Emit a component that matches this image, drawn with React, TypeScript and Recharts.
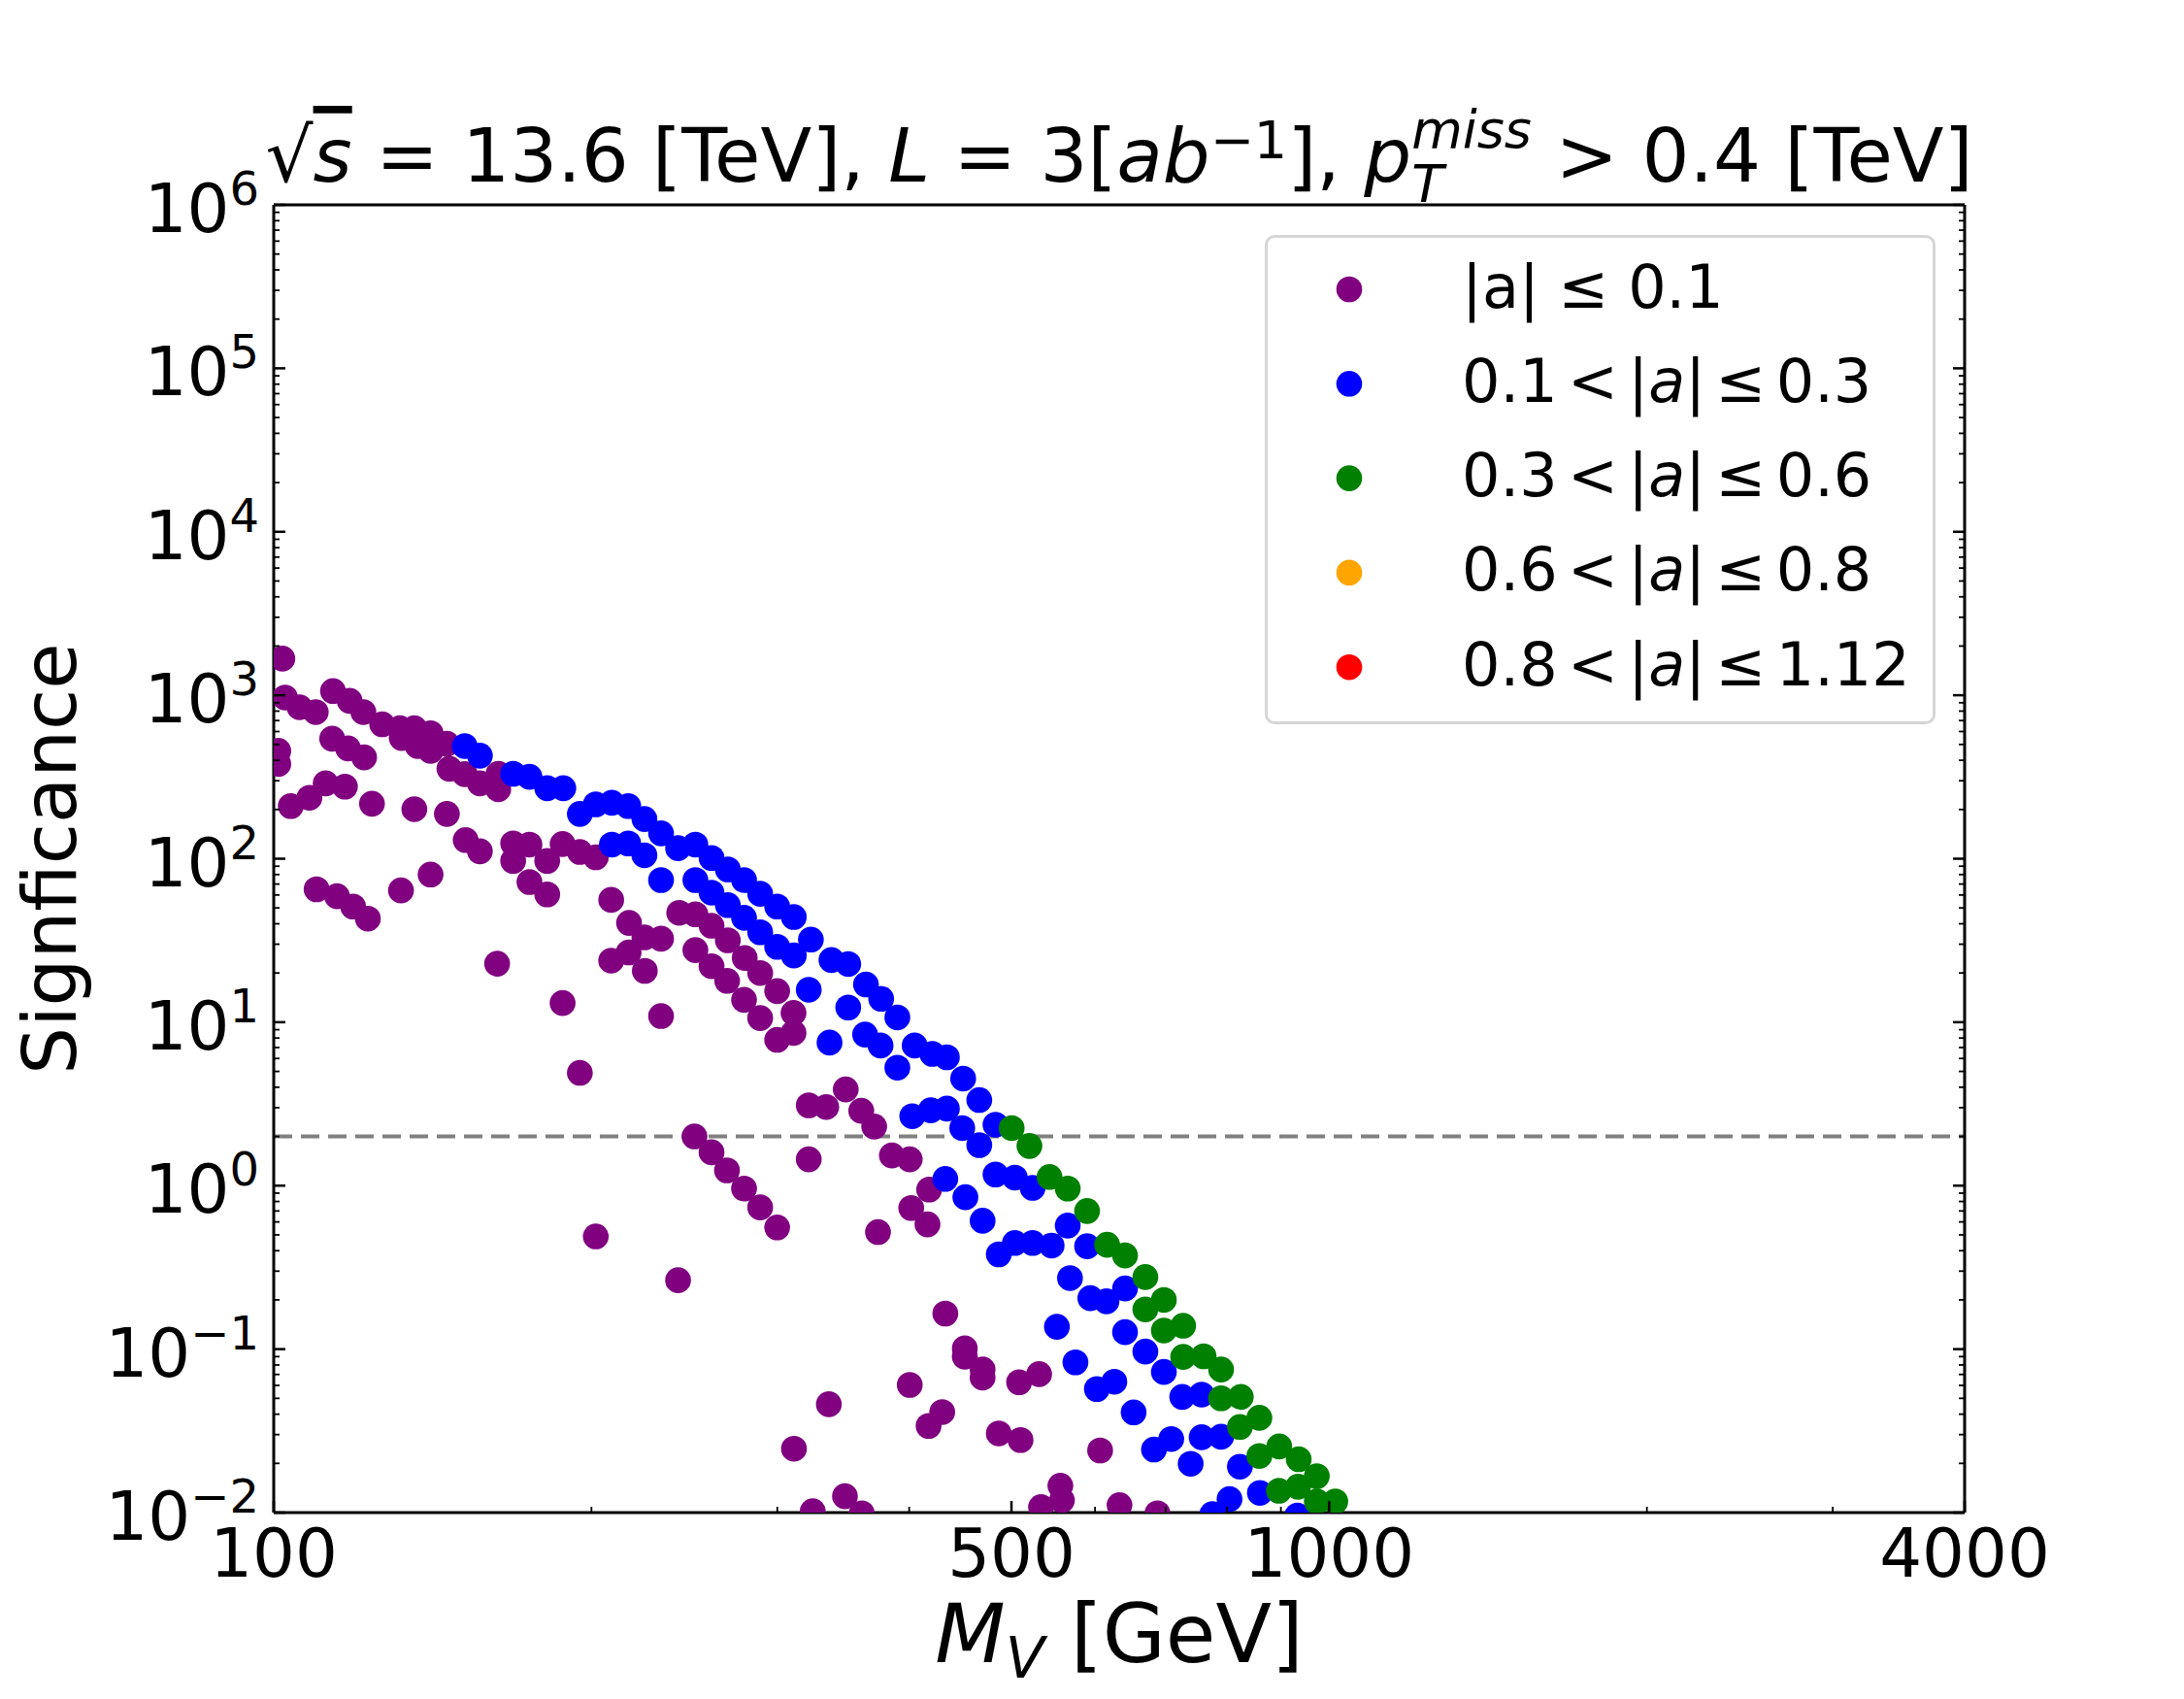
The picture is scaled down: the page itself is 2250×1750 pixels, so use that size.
import React from 'react';
import { ScatterChart, Scatter, XAxis, YAxis, ReferenceLine, Legend } from 'recharts';

const W = 2250;
const H = 1750;
const FONT = '"DejaVu Sans", sans-serif';

// plot frame (matches the matplotlib axes box)
const PLOT_LEFT = 282;
const PLOT_RIGHT = 2024;
const PLOT_TOP = 211;
const PLOT_BOTTOM = 1558;
const PLOT_CX = (PLOT_LEFT + PLOT_RIGHT) / 2;
const PLOT_CY = (PLOT_TOP + PLOT_BOTTOM) / 2;

// [M_V in GeV, significance]
const purplePoints = [
  [101.9, 1675], [102.5, 969], [105.8, 845], [109.6, 789], [113.8, 1061], [118, 925], [121.6, 789],
  [126.7, 664], [131.7, 628], [135.9, 628], [132.2, 548], [136.9, 489], [140.8, 586], [140.8, 457],
  [145.9, 505], [146.7, 355], [151.7, 329], [156.8, 289], [163.3, 331], [163.2, 266],
  [113.6, 542], [117.6, 473], [121.8, 417], [101, 457], [101, 380],
  [103.8, 210], [108.1, 236], [112, 289], [116.8, 276], [123.9, 217], [135.9, 201], [145.9, 188],
  [152, 130], [156.8, 111], [168.6, 124], [168.6, 97], [174.7, 122], [181.6, 97], [187.8, 123],
  [195, 110], [201.9, 102],
  [109.8, 65], [114.8, 59], [118.9, 51], [122.8, 43], [132, 64], [140.8, 80], [174.7, 72], [181.6, 60.5],
  [208.8, 56], [217.1, 40.5], [224.5, 33], [232.8, 32.4], [242.2, 46.7], [250.9, 45.7], [259.9, 38.9],
  [269.3, 31.7], [279.4, 24.7], [289, 20], [299.9, 15.5], [310.8, 11.4], [310.8, 8.6], [299.9, 7.8],
  [208.8, 23.8], [216.9, 26.7], [224.7, 20.6], [250.9, 27.6], [259.9, 22], [268.9, 17.9], [279, 13.7],
  [289, 10.6], [232.8, 10.9],
  [162.8, 22.8], [187.8, 13.1], [195, 4.9], [201.9, 0.489], [241.6, 0.264], [250.4, 2.0],
  [348.3, 3.88], [321.3, 3.1], [333.8, 3.03], [360.3, 2.87], [370.6, 2.3], [259.9, 1.6], [268.8, 1.24],
  [279, 0.96], [289, 0.736], [299.9, 0.555], [321.3, 1.45], [385.2, 1.53], [400.5, 1.45], [417.8, 0.946],
  [401.8, 0.73], [416.3, 0.58], [373.7, 0.52],
  [432.8, 0.165], [451.6, 0.101], [451.6, 0.09], [469.5, 0.075], [469.5, 0.067], [508.4, 0.0627],
  [531.1, 0.0703], [400.5, 0.0604], [335.7, 0.046],
  [606.7, 0.024], [556.3, 0.0146], [558.2, 0.0119], [632.9, 0.0111], [687.5, 0.0099], [311.1, 0.0246],
  [429.9, 0.0412], [417.3, 0.0339], [486.3, 0.0305], [510, 0.0278], [533.3, 0.0108], [347.7, 0.0126],
  [324.1, 0.0102], [360.7, 0.0099],
];

const bluePoints = [
  [151.7, 489], [156.8, 427], [168.6, 331], [174.7, 317], [181.6, 270], [188.1, 270], [195, 188],
  [201.9, 215], [209.1, 220], [216.7, 210], [224.5, 175], [209.1, 122], [216.7, 124], [224.5, 105],
  [232.8, 143], [241.6, 116], [250.9, 122], [259.9, 101], [269.3, 86], [279, 74], [289, 61], [299.9, 51],
  [311, 44], [322.8, 32], [337.6, 24], [350.2, 22.7], [364, 17], [376.3, 13.9], [389.8, 10.7],
  [404.8, 7.2], [420.7, 6.4], [434.3, 6.1],
  [232.8, 74], [250.9, 74], [259.9, 62], [269.3, 52], [279, 43.5], [289, 35.5], [299.9, 28.9],
  [311, 25.6], [321.3, 15.8], [350.2, 12.3], [363.3, 8.4], [375.8, 7.2], [336.2, 7.5],
  [389.8, 5.27], [450, 4.52], [466.1, 3.34], [482.9, 2.36], [402.7, 2.66], [419.3, 2.89], [434.3, 2.96],
  [449.1, 2.25], [466.1, 1.77], [432.8, 1.1], [452.2, 0.85], [469.5, 0.61], [482.9, 1.17], [503.7, 1.12],
  [523.6, 0.97], [486.3, 0.38], [503.7, 0.446], [523.6, 0.446], [545.8, 0.43], [565.3, 0.57],
  [589.7, 0.426], [568.1, 0.272], [593.9, 0.205], [615.2, 0.196], [552.1, 0.137], [574.9, 0.083],
  [602.4, 0.057],
  [640.6, 0.235], [640.6, 0.127], [669.6, 0.0966], [697.2, 0.0725], [625.8, 0.0632], [652.7, 0.041],
  [725.7, 0.051], [757.1, 0.0527], [682.3, 0.0243], [708.5, 0.0282], [739.2, 0.0199], [757.1, 0.0289],
  [789.9, 0.0291], [823, 0.0191], [804.6, 0.0121], [859.7, 0.0132], [775, 0.0098], [933, 0.0096],
];

const greenPoints = [
  [500.2, 2.25], [520, 1.75], [543.3, 1.13], [565.3, 0.96], [589.7, 0.7], [616, 0.435], [640.6, 0.374],
  [669.6, 0.276], [697.2, 0.2], [669.6, 0.175], [697.2, 0.13], [727.2, 0.139], [727.2, 0.0896],
  [760.4, 0.0904], [789.9, 0.075], [789.9, 0.05], [824.7, 0.051], [858.7, 0.038], [823, 0.0334],
  [858.7, 0.0222], [896.8, 0.0254], [935.7, 0.0212], [973.4, 0.0167], [896.2, 0.0136], [934.3, 0.0144],
  [973.4, 0.0117], [1013.4, 0.0117],
];

const orangePoints: number[][] = [];
const redPoints: number[][] = [];

const SERIES_NAMES = ['|a| ≤ 0.1', '0.1 < |a| ≤ 0.3', '0.3 < |a| ≤ 0.6', '0.6 < |a| ≤ 0.8', '0.8 < |a| ≤ 1.12'];
const SERIES_COLORS = ['#800080', '#0000ff', '#008000', '#ffa500', '#ff0000'];
const SERIES_MATH = [false, true, true, true, true];
const SERIES_POINTS = [purplePoints, bluePoints, greenPoints, orangePoints, redPoints];

const X_MAJOR = [100, 500, 1000, 4000];
const X_MINOR = [200, 300, 400, 600, 700, 800, 900, 2000, 3000];
const Y_EXPONENTS = [-2, -1, 0, 1, 2, 3, 4, 5, 6];
const SIGNIFICANCE_CUT = 2;

const X_TICKS = [...X_MAJOR, ...X_MINOR].sort((a, b) => a - b);
const Y_TICKS: number[] = [];
Y_EXPONENTS.forEach((e) => {
  Y_TICKS.push(Math.pow(10, e));
  if (e < 6) for (let k = 2; k <= 9; k++) Y_TICKS.push(k * Math.pow(10, e));
});

const isYMajor = (v: number) => Math.abs(Math.log10(v) - Math.round(Math.log10(v))) < 1e-6;

function LeftTick({ x, y, payload }: any) {
  const v = payload.value;
  const major = isYMajor(v);
  const e = Math.round(Math.log10(v));
  return (
    <g>
      <line x1={x} x2={x + (major ? 12 : 6)} y1={y} y2={y} stroke="#000" strokeWidth={major ? 2.5 : 1.8} />
      {major && (
        <text x={x - 15} y={y + 28} textAnchor="end" fontSize={69} fontFamily={FONT} fill="#000">
          10<tspan dy={-28} fontSize={48}>{e < 0 ? '\u2212' + -e : String(e)}</tspan>
        </text>
      )}
    </g>
  );
}

function RightTick({ x, y, payload }: any) {
  const major = isYMajor(payload.value);
  return <line x1={x} x2={x - (major ? 12 : 6)} y1={y} y2={y} stroke="#000" strokeWidth={major ? 2.5 : 1.8} />;
}

function BottomTick({ x, y, payload }: any) {
  const major = X_MAJOR.includes(payload.value);
  return (
    <g>
      <line x1={x} x2={x} y1={y} y2={y - (major ? 12 : 6)} stroke="#000" strokeWidth={major ? 2.5 : 1.8} />
      {major && (
        <text x={x} y={y + 66} textAnchor="middle" fontSize={69} fontFamily={FONT} fill="#000">
          {payload.value}
        </text>
      )}
    </g>
  );
}

function TopTick({ x, y, payload }: any) {
  const major = X_MAJOR.includes(payload.value);
  return <line x1={x} x2={x} y1={y} y2={y + (major ? 12 : 6)} stroke="#000" strokeWidth={major ? 2.5 : 1.8} />;
}

const TitleLabel = () => (
  <text x={PLOT_CX} y={187} textAnchor="middle" fontSize={77} fontFamily={FONT} fill="#000">
    <tspan>√</tspan>
    <tspan fontStyle="italic" textDecoration="overline">s</tspan>
    <tspan> = 13.6 [TeV], </tspan>
    <tspan fontStyle="italic">L</tspan>
    <tspan> = 3[</tspan>
    <tspan fontStyle="italic">ab</tspan>
    <tspan fontSize={54} dy={-24}>−1</tspan>
    <tspan dy={24}>], </tspan>
    <tspan fontStyle="italic">p</tspan>
    <tspan fontStyle="italic" fontSize={54} dy={21}>T</tspan>
    <tspan fontStyle="italic" fontSize={54} dx={-33} dy={-56}>miss</tspan>
    <tspan dy={35}> &gt; 0.4 [TeV]</tspan>
  </text>
);

const XLabel = () => (
  <text x={PLOT_CX} y={1712} textAnchor="middle" fontSize={84} fontFamily={FONT} fill="#000">
    <tspan fontStyle="italic">M</tspan>
    <tspan fontStyle="italic" fontSize={59} dy={16}>V</tspan>
    <tspan dy={-16}> [GeV]</tspan>
  </text>
);

const YLabel = () => (
  <text
    x={78}
    y={PLOT_CY}
    transform={`rotate(-90 78 ${PLOT_CY})`}
    textAnchor="middle"
    fontSize={77}
    fontFamily={FONT}
    fill="#000"
  >
    Signficance
  </text>
);

function LegendLabel({ text, math }: { text: string; math: boolean }) {
  const spaced = math ? text.replace(/ /g, '\u2006') : text;
  const parts = spaced.split('a');
  return (
    <>
      {parts.map((part, i) => (
        <React.Fragment key={i}>
          <tspan>{part}</tspan>
          {i < parts.length - 1 && <tspan fontStyle={math ? 'italic' : 'normal'}>a</tspan>}
        </React.Fragment>
      ))}
    </>
  );
}

const LegendBox = () => (
  <div
    style={{
      width: 691,
      height: 504,
      boxSizing: 'border-box',
      border: '3px solid #d6d6d6',
      borderRadius: 10,
      background: 'rgba(255,255,255,0.8)',
    }}
  >
    <svg width={685} height={498} style={{ display: 'block' }}>
      {SERIES_NAMES.map((name, i) => {
        const cy = 53 + i * 97.3;
        return (
          <g key={name}>
            <circle cx={84} cy={cy} r={13.3} fill={SERIES_COLORS[i]} />
            <text x={200} y={cy + 18.5} fontSize={62} fontFamily={FONT} fill="#000">
              <LegendLabel text={name} math={SERIES_MATH[i]} />
            </text>
          </g>
        );
      })}
    </svg>
  </div>
);

export default function App() {
  return (
    <div style={{ position: 'absolute', left: 0, top: 0, width: W, height: H, background: '#fff' }}>
      <ScatterChart width={W} height={H} margin={{ top: 0, right: 0, bottom: 0, left: 0 }}>
        <XAxis
          xAxisId="b"
          dataKey="m"
          type="number"
          scale="log"
          domain={[100, 4000]}
          allowDataOverflow
          ticks={X_TICKS}
          interval={0}
          height={H - PLOT_BOTTOM}
          tickSize={0}
          tickMargin={0}
          tickLine={false}
          axisLine={{ stroke: '#000', strokeWidth: 3 }}
          tick={BottomTick}
          label={{ content: XLabel }}
        />
        <XAxis
          xAxisId="t"
          orientation="top"
          type="number"
          scale="log"
          domain={[100, 4000]}
          allowDataOverflow
          ticks={X_TICKS}
          interval={0}
          height={PLOT_TOP}
          tickSize={0}
          tickMargin={0}
          tickLine={false}
          axisLine={{ stroke: '#000', strokeWidth: 3 }}
          tick={TopTick}
          label={{ content: TitleLabel }}
        />
        <YAxis
          yAxisId="l"
          dataKey="s"
          type="number"
          scale="log"
          domain={[0.01, 1e6]}
          allowDataOverflow
          ticks={Y_TICKS}
          interval={0}
          width={PLOT_LEFT}
          tickSize={0}
          tickMargin={0}
          tickLine={false}
          axisLine={{ stroke: '#000', strokeWidth: 3 }}
          tick={LeftTick}
          label={{ content: YLabel }}
        />
        <YAxis
          yAxisId="r"
          orientation="right"
          type="number"
          scale="log"
          domain={[0.01, 1e6]}
          allowDataOverflow
          ticks={Y_TICKS}
          interval={0}
          width={W - PLOT_RIGHT}
          tickSize={0}
          tickMargin={0}
          tickLine={false}
          axisLine={{ stroke: '#000', strokeWidth: 3 }}
          tick={RightTick}
        />
        {SERIES_NAMES.map((name, i) => (
          <Scatter
            key={name}
            name={name}
            xAxisId="b"
            yAxisId="l"
            data={SERIES_POINTS[i].map(([m, s]) => ({ m, s }))}
            fill={SERIES_COLORS[i]}
            isAnimationActive={false}
            shape={(p: any) => <circle cx={p.cx} cy={p.cy} r={13.3} fill={SERIES_COLORS[i]} />}
          />
        ))}
        <ReferenceLine
          xAxisId="b"
          yAxisId="l"
          y={SIGNIFICANCE_CUT}
          stroke="#808080"
          strokeWidth={4}
          strokeDasharray="19 9"
        />
        <Legend
          layout="vertical"
          align="center"
          verticalAlign="middle"
          wrapperStyle={{ left: 1303, top: 242, width: 691, height: 504 }}
          content={() => <LegendBox />}
        />
      </ScatterChart>
    </div>
  );
}
